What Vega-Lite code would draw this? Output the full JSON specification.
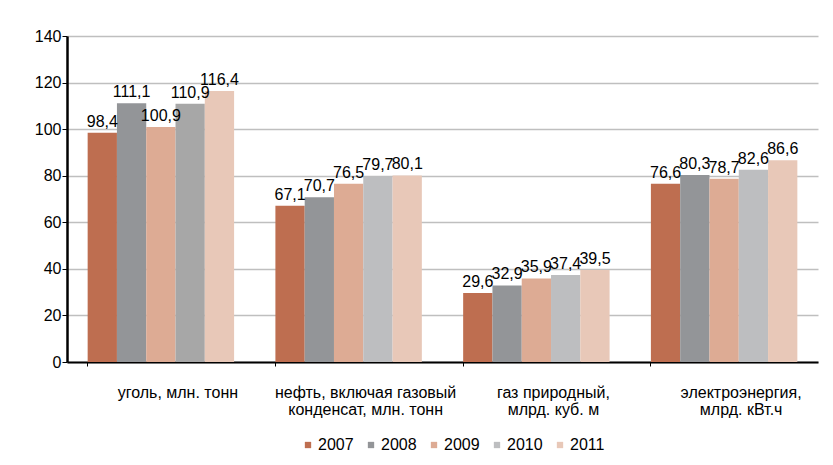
{
  "$schema": "https://vega.github.io/schema/vega-lite/v6.json",
  "width": 751,
  "height": 326,
  "autosize": {"type": "none"},
  "padding": {"left": 67, "top": 36, "right": 15, "bottom": 103},
  "background": "white",
  "config": {
    "font": "Liberation Sans",
    "view": {"stroke": null},
    "locale": {"number": {"decimal": ",", "thousands": " ", "grouping": [3], "currency": ["", ""]}}
  },
  "data": {
    "values": [
      {"cat": "уголь, млн. тонн", "year": "2007", "value": 98.4},
      {"cat": "уголь, млн. тонн", "year": "2008", "value": 111.1},
      {"cat": "уголь, млн. тонн", "year": "2009", "value": 100.9},
      {"cat": "уголь, млн. тонн", "year": "2010", "value": 110.9},
      {"cat": "уголь, млн. тонн", "year": "2011", "value": 116.4},
      {"cat": "нефть, включая газовый конденсат, млн. тонн", "year": "2007", "value": 67.1},
      {"cat": "нефть, включая газовый конденсат, млн. тонн", "year": "2008", "value": 70.7},
      {"cat": "нефть, включая газовый конденсат, млн. тонн", "year": "2009", "value": 76.5},
      {"cat": "нефть, включая газовый конденсат, млн. тонн", "year": "2010", "value": 79.7},
      {"cat": "нефть, включая газовый конденсат, млн. тонн", "year": "2011", "value": 80.1},
      {"cat": "газ природный, млрд. куб. м", "year": "2007", "value": 29.6},
      {"cat": "газ природный, млрд. куб. м", "year": "2008", "value": 32.9},
      {"cat": "газ природный, млрд. куб. м", "year": "2009", "value": 35.9},
      {"cat": "газ природный, млрд. куб. м", "year": "2010", "value": 37.4},
      {"cat": "газ природный, млрд. куб. м", "year": "2011", "value": 39.5},
      {"cat": "электроэнергия, млрд. кВт.ч", "year": "2007", "value": 76.6},
      {"cat": "электроэнергия, млрд. кВт.ч", "year": "2008", "value": 80.3},
      {"cat": "электроэнергия, млрд. кВт.ч", "year": "2009", "value": 78.7},
      {"cat": "электроэнергия, млрд. кВт.ч", "year": "2010", "value": 82.6},
      {"cat": "электроэнергия, млрд. кВт.ч", "year": "2011", "value": 86.6}
    ]
  },
  "encoding": {
    "x": {
      "field": "cat",
      "type": "nominal",
      "sort": null,
      "scale": {"paddingInner": 0.22, "paddingOuter": 0.11},
      "axis": {
        "title": null,
        "labelAngle": 0,
        "labelFontSize": 16,
        "labelColor": "black",
        "labelLimit": 0,
        "labelPadding": 18,
        "labelOffset": 17,
        "labelLineHeight": 17,
        "labelExpr": "datum.label == 'нефть, включая газовый конденсат, млн. тонн' ? ['нефть, включая газовый', 'конденсат, млн. тонн'] : datum.label == 'газ природный, млрд. куб. м' ? ['газ природный,', 'млрд. куб. м'] : datum.label == 'электроэнергия, млрд. кВт.ч' ? ['электроэнергия,', 'млрд. кВт.ч'] : datum.label",
        "domainColor": "black",
        "domainWidth": 2,
        "tickColor": "black",
        "tickSize": 4,
        "bandPosition": 0,
        "grid": false
      }
    },
    "xOffset": {"field": "year", "type": "nominal", "scale": {"paddingInner": 0, "paddingOuter": 0}},
    "y": {
      "field": "value",
      "type": "quantitative",
      "scale": {"domain": [0, 140], "nice": false},
      "axis": {
        "title": null,
        "values": [0, 20, 40, 60, 80, 100, 120, 140],
        "labelFontSize": 16,
        "labelColor": "black",
        "domainColor": "black",
        "domainWidth": 2.5,
        "tickColor": "black",
        "tickSize": 5,
        "labelPadding": 1,
        "gridColor": "#BFBFBF",
        "gridWidth": 1.5
      }
    }
  },
  "layer": [
    {
      "mark": {"type": "bar"},
      "encoding": {
        "color": {
          "condition": {"test": "datum.cat == 'уголь, млн. тонн' && datum.year == '2010'", "value": "#A7A7A7"},
          "field": "year",
          "type": "nominal",
          "scale": {"domain": ["2007", "2008", "2009", "2010", "2011"], "range": ["#BE6E50", "#939598", "#DDAB94", "#BDBEC0", "#E8C8B8"]},
          "legend": {
            "title": null,
            "orient": "none",
            "direction": "horizontal",
            "legendX": 233,
            "legendY": 401,
            "symbolType": "square",
            "symbolSize": 40,
            "symbolStrokeWidth": 0,
            "labelFontSize": 16,
            "labelColor": "black",
            "labelOffset": 2,
            "columnPadding": 9
          }
        }
      }
    },
    {
      "mark": {"type": "text", "baseline": "bottom", "dy": -3, "fontSize": 16, "color": "black"},
      "encoding": {
        "text": {"field": "value", "type": "quantitative", "format": ".1f"}
      }
    }
  ]
}
